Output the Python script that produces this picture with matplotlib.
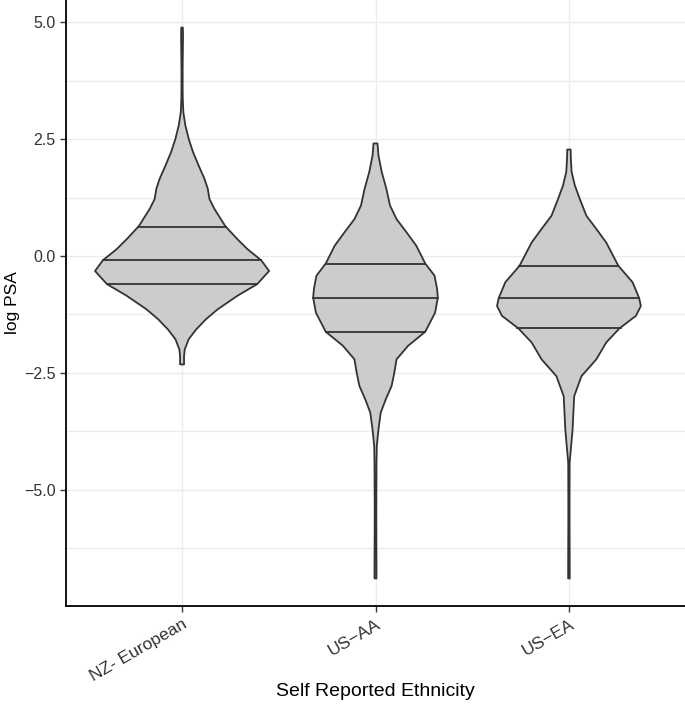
import matplotlib
matplotlib.use("Agg")
import matplotlib.pyplot as plt
import numpy as np

plt.rcParams['font.family'] = ['Liberation Sans', 'DejaVu Sans']

categories = ["NZ- European", "US\u2212AA", "US\u2212EA"]

# density profiles: (log PSA value, relative half-width)
nz_y = [4.89, 4.7, 4.4, 4.0, 3.6, 3.37, 3.08, 2.80, 2.51, 2.23, 1.94, 1.65, 1.44, 1.22, 1.01,
        0.64, 0.36, 0.15, -0.09, -0.32, -0.60, -0.85, -1.14, -1.35, -1.57, -1.78, -2.00,
        -2.15, -2.32]
nz_w = [0.8, 1.0, 0.8, 0.6, 0.6, 0.7, 1.3, 3.3, 6.7, 11, 16.7, 22.7, 26, 27.7, 32.7,
        43.7, 56, 66, 80, 88, 76, 56, 36, 24.3, 14.3, 6.7, 2.7, 2.0, 2.0]

aa_y = [2.41, 2.15, 1.80, 1.44, 1.08, 0.79, 0.51, 0.22, -0.16, -0.42, -0.71, -0.89, -1.21,
        -1.62, -1.92, -2.21, -2.50, -2.78, -3.07, -3.35, -3.71, -4.07, -4.43, -5.5, -6.90]
aa_w = [2.0, 3, 6.3, 11, 14.7, 21.3, 31.3, 41.3, 50.3, 59.7, 62.3, 63, 60.3,
        50.3, 33, 21.3, 19, 16.3, 10.3, 5.3, 3, 1.3, 1.0, 0.8, 1.0]

ea_y = [2.28, 2.05, 1.80, 1.51, 1.22, 0.86, 0.58, 0.29, -0.21, -0.56, -0.90, -1.07, -1.28,
        -1.55, -1.85, -2.21, -2.57, -3.00, -3.71, -4.43, -5.5, -6.90]
ea_w = [1.7, 2.0, 2.7, 6, 11, 17.7, 27.7, 37.7, 50, 64.3, 71, 72.7, 67.7,
        51, 37.7, 27.7, 12.7, 5.3, 3.7, 0.7, 0.6, 0.8]

# quartiles (25%, 50%, 75%)
nz_q = [-0.60, -0.09, 0.63]
aa_q = [-1.62, -0.89, -0.16]
ea_q = [-1.53, -0.89, -0.21]

profiles = [(nz_y, nz_w, nz_q), (aa_y, aa_w, aa_q), (ea_y, ea_w, ea_q)]

fig = plt.figure(figsize=(6.85, 7.06), dpi=100)
ax = fig.add_axes([66 / 685, 100 / 706, 619 / 685, 606 / 706])

grid_c = "#EBEBEB"
ax.set_xlim(0.4, 3.6)
ax.set_ylim(-7.49, 5.48)
ax.set_yticks([-5.0, -2.5, 0.0, 2.5, 5.0])
ax.set_yticklabels(["\u22125.0", "\u22122.5", "0.0", "2.5", "5.0"])
ax.set_yticks([-6.25, -3.75, -1.25, 1.25, 3.75], minor=True)
ax.set_xticks([1, 2, 3])
ax.set_xticklabels(categories, rotation=30, ha="right", rotation_mode="anchor")
ax.grid(True, which="major", color=grid_c, lw=1.0, zorder=0)
ax.grid(True, which="minor", axis="y", color=grid_c, lw=1.0, zorder=0)
ax.set_axisbelow(True)

scale = 0.45 / max(nz_w)
edge = "#333333"
for i, (ys, ws, qs) in enumerate(profiles):
    x0 = i + 1
    ys = np.array(ys)
    ws = np.array(ws) * scale
    xs = np.concatenate([x0 - ws, (x0 + ws)[::-1]])
    yy = np.concatenate([ys, ys[::-1]])
    ax.fill(xs, yy, facecolor="#CCCCCC", edgecolor=edge, lw=1.3, zorder=2, joinstyle="round")
    order = np.argsort(ys)
    for q in qs:
        hw = np.interp(q, ys[order], ws[order])
        ax.plot([x0 - hw, x0 + hw], [q, q], color=edge, lw=1.3, zorder=3)

for s in ["top", "right"]:
    ax.spines[s].set_visible(False)
for s in ["left", "bottom"]:
    ax.spines[s].set_linewidth(1.3)
    ax.spines[s].set_color("black")
ax.tick_params(axis="both", which="major", length=4, width=1.0, color="#333333",
               labelsize=11.5, labelcolor="#333333")
ax.tick_params(axis="x", which="major", labelsize=12.5)
ax.tick_params(axis="y", which="minor", length=0)
ax.set_xlabel("Self Reported Ethnicity", fontsize=14, va="center")
ax.xaxis.set_label_coords(0.5, (606 - 692) / 606)
ax.set_ylabel("log PSA", fontsize=12.5, va="center")
ax.yaxis.set_label_coords((13 - 66) / 619, 0.5)

fig.savefig("out.png", dpi=100)
